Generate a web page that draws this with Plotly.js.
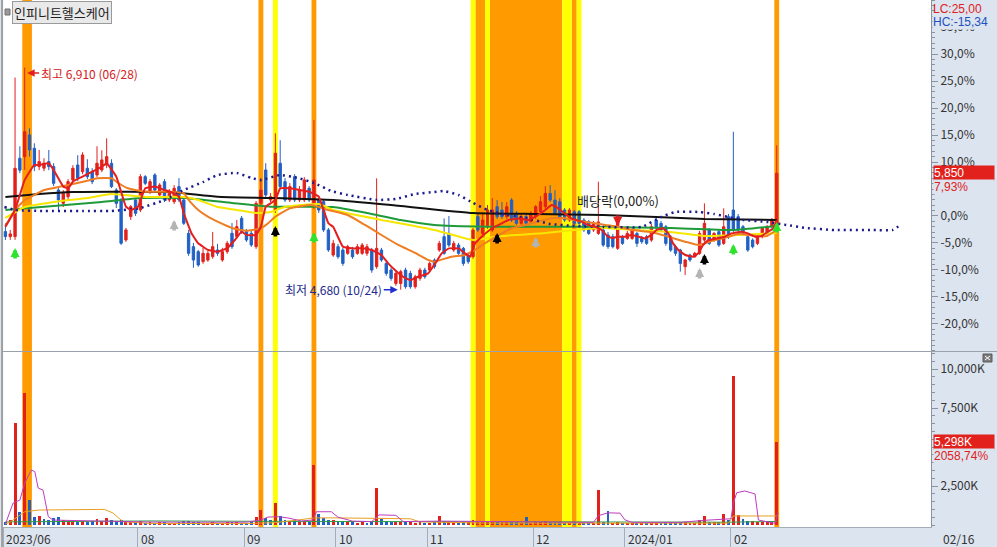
<!DOCTYPE html>
<html><head><meta charset="utf-8">
<script src="https://cdn.plot.ly/plotly-3.0.1.min.js"></script>
<style>html,body{margin:0;padding:0;background:#fff}#chart{width:997px;height:547px}</style>
</head><body><div id="chart"></div>
<script>
const stockName = '인피니트헬스케어';
const basePrice = 5420;
const dates = [
'2023-06-22','2023-06-23','2023-06-26','2023-06-27','2023-06-28','2023-06-29','2023-06-30',
'2023-07-03','2023-07-04','2023-07-05','2023-07-06','2023-07-07','2023-07-10','2023-07-11','2023-07-12','2023-07-13','2023-07-14','2023-07-17','2023-07-18','2023-07-19','2023-07-20','2023-07-21','2023-07-24','2023-07-25','2023-07-26','2023-07-27','2023-07-28','2023-07-31',
'2023-08-01','2023-08-02','2023-08-03','2023-08-04','2023-08-07','2023-08-08','2023-08-09','2023-08-10','2023-08-11','2023-08-14','2023-08-16','2023-08-17','2023-08-18','2023-08-21','2023-08-22','2023-08-23','2023-08-24','2023-08-25','2023-08-28','2023-08-29','2023-08-30','2023-08-31',
'2023-09-01','2023-09-04','2023-09-05','2023-09-06','2023-09-07','2023-09-08','2023-09-11','2023-09-12','2023-09-13','2023-09-14','2023-09-15','2023-09-18','2023-09-19','2023-09-20','2023-09-21','2023-09-22','2023-09-25','2023-09-26','2023-09-27',
'2023-10-04','2023-10-05','2023-10-06','2023-10-10','2023-10-11','2023-10-12','2023-10-13','2023-10-16','2023-10-17','2023-10-18','2023-10-19','2023-10-20','2023-10-23','2023-10-24','2023-10-25','2023-10-26','2023-10-27','2023-10-30','2023-10-31',
'2023-11-01','2023-11-02','2023-11-03','2023-11-06','2023-11-07','2023-11-08','2023-11-09','2023-11-10','2023-11-13','2023-11-14','2023-11-15','2023-11-16','2023-11-17','2023-11-20','2023-11-21','2023-11-22','2023-11-23','2023-11-24','2023-11-27','2023-11-28','2023-11-29','2023-11-30',
'2023-12-01','2023-12-04','2023-12-05','2023-12-06','2023-12-07','2023-12-08','2023-12-11','2023-12-12','2023-12-13','2023-12-14','2023-12-15','2023-12-18','2023-12-19','2023-12-20','2023-12-21','2023-12-22','2023-12-26','2023-12-27','2023-12-28',
'2024-01-02','2024-01-03','2024-01-04','2024-01-05','2024-01-08','2024-01-09','2024-01-10','2024-01-11','2024-01-12','2024-01-15','2024-01-16','2024-01-17','2024-01-18','2024-01-19','2024-01-22','2024-01-23','2024-01-24','2024-01-25','2024-01-26','2024-01-29','2024-01-30','2024-01-31',
'2024-02-01','2024-02-02','2024-02-05','2024-02-06','2024-02-07','2024-02-08','2024-02-13','2024-02-14','2024-02-15','2024-02-16'];

const opens = [5263,5213,5213,6000,6016,6234,6100,5916,5900,5966,5916,5681,5547,5614,5782,5932,5865,5899,5865,5832,5882,5932,5949,5681,5581,5179,5414,5581,5480,5815,5665,5832,5631,5765,5581,5564,5715,5581,5246,5112,5062,4962,4978,5012,5079,4978,5062,5246,5213,5397,5263,5246,5112,5547,5882,5581,5480,5949,5765,5581,5815,5581,5581,5698,5514,5581,5564,5280,
5028,5112,5078,5045,5078,5045,5045,5045,5078,4911,5078,4944,4877,4743,4743,4877,4844,4710,4794,4877,4877,4978,5078,5212,5245,5078,5128,5095,5028,5011,5413,5245,5312,5279,5513,5480,5413,5580,5446,5346,5413,5363,5413,5463,5513,5647,5580,5563,5480,5379,5463,5463,5379,5363,5279,5245,
5279,5229,5212,5095,5212,5195,5195,5245,5195,5212,5178,5379,5346,5312,5212,5112,5078,4911,5028,5011,5045,5178,5279,5178,5262,5145,5413,5480,5413,5312,5212,5178,5145,5212,5245,5312,5346];
const highs = [5347,5280,6810,6120,6910,6300,6150,6083,6000,6083,5950,5700,5680,5790,5930,6030,6060,5990,5900,6120,6080,6200,5990,5700,5600,5300,5530,5600,5840,5830,5790,5850,5750,5790,5690,5730,5800,5600,5280,5150,5080,5100,5070,5260,5140,5100,5170,5350,5380,5420,5290,5270,5570,5800,5950,5650,6250,6180,5800,5750,5840,5720,5810,5720,6384,5600,5590,5300,
5180,5140,5100,5130,5110,5140,5150,5140,5100,5798,5100,4960,4900,4870,4880,4900,4870,4830,4900,4900,4960,4995,5170,5396,5420,5170,5150,5110,5050,5300,5440,5440,5530,5600,5580,5560,5560,5600,5470,5440,5440,5470,5530,5620,5720,5730,5680,5600,5500,5500,5480,5480,5400,5380,5370,5764,
5310,5260,5240,5420,5230,5270,5300,5260,5220,5230,5340,5400,5370,5330,5230,5130,5090,4990,5040,5060,5270,5547,5300,5260,5280,5497,5440,6266,5440,5330,5230,5195,5245,5310,5330,5400,6130];
const lows = [5179,5180,5180,5850,5882,6016,5870,5880,5870,5880,5720,5480,5510,5580,5760,5770,5840,5790,5740,5810,5860,5900,5700,5500,5130,5160,5380,5420,5460,5730,5640,5660,5610,5560,5560,5540,5560,5330,5020,4900,4910,4940,4960,4990,5020,4960,5040,5090,5190,5240,5160,5110,5090,5520,5600,5560,5450,5690,5560,5560,5560,5560,5560,5560,5490,5450,5260,5060,
5010,4990,4920,5030,4990,5030,5030,5020,4850,4890,4960,4820,4770,4720,4680,4690,4690,4690,4770,4790,4860,4890,5060,5030,5110,5060,5030,4920,4940,4990,5260,5230,5290,5260,5390,5390,5390,5360,5330,5330,5330,5345,5390,5440,5490,5560,5430,5390,5360,5360,5330,5330,5260,5230,5260,5230,
5110,5090,5095,5080,5130,5180,5180,5110,5140,5130,5160,5290,5260,5120,5060,5020,4861,4827,4960,5000,5030,5160,5130,5160,5110,5130,5190,5260,5260,5230,5060,5095,5128,5195,5230,5296,5330];
const closes = [5213,5240,5899,5880,6267,6083,5916,5966,5950,5916,5748,5581,5648,5765,5899,5799,6033,5815,5765,5949,5983,6016,5715,5547,5146,5280,5514,5447,5815,5748,5765,5681,5731,5581,5665,5698,5581,5347,5045,4978,4928,5045,5045,5112,5045,5062,5146,5112,5313,5263,5179,5129,5547,5680,5631,5614,6050,5715,5581,5715,5581,5681,5782,5581,5782,5480,5280,5079,
5145,5011,4944,5112,5011,5112,5128,5112,4877,5095,4978,4844,4794,4844,4861,4710,4710,4810,4877,4810,4944,4911,5145,5045,5128,5145,5045,4944,4961,5279,5279,5379,5480,5480,5413,5413,5513,5379,5346,5413,5346,5446,5513,5563,5647,5580,5446,5413,5379,5480,5346,5346,5279,5245,5346,5360,
5128,5112,5112,5346,5145,5245,5279,5145,5162,5145,5312,5312,5279,5145,5078,5045,4944,4978,4978,5045,5245,5346,5145,5245,5128,5312,5212,5279,5279,5245,5078,5112,5229,5296,5312,5379,5850];
const volumesK = [180,350,6540,850,8460,1600,520,600,380,300,420,520,300,280,250,220,260,200,230,380,260,420,300,260,350,280,200,180,250,160,200,150,170,190,150,140,170,230,260,200,180,160,150,200,130,150,170,210,180,160,150,170,520,960,420,300,1400,600,350,280,300,220,250,200,3850,700,450,350,300,250,220,180,200,160,170,150,200,2370,400,250,200,180,220,200,180,160,170,150,160,180,600,280,260,180,160,200,170,300,280,240,260,250,220,180,190,230,170,160,500,150,170,200,260,220,200,180,150,160,170,150,140,130,160,2240,180,900,140,200,130,120,140,130,120,130,150,160,140,180,170,160,200,180,150,140,300,580,220,200,180,700,300,9550,620,380,280,250,200,220,240,280,5298];

// moving averages (index position, price)
const ma5Idx = [0,2,4,6,7,9,10,12,13,14,16,18,20,21,23,25,26,27.5,29,31,33,35,36,37,38.6,40,42,44,46,47.6,49,50,52,53,54,55,56,57,59,61,63,65,66,67,68,70,72,74,76,78,79.4,80.8,82.5,84,85.6,87.7,88.7,89.4,90.5,92,94,95.3,96.4,97.4,98.8,100,101.5,103,104.3,106.4,108.5,110.5,112,113.3,114.7,116,117.4,119.5,120.9,122.3,123.7,125,126,127,128.5,129.9,131.3,132.6,134,135,136.4,137.5,138.5,139.6,141,142.7,143.7,144.7,145.8,147.5,149.2,150.6,152.7,154,155.5,156.8,158.2,159.3,160];
const ma5Val = [5313,5480,5782,5932,5932,5949,5882,5715,5698,5765,5815,5865,5916,5949,5815,5514,5480,5514,5698,5715,5681,5648,5614,5447,5246,5146,5079,5062,5096,5179,5263,5230,5230,5313,5514,5547,5581,5698,5698,5681,5665,5614,5480,5347,5310,5112,5095,5095,5078,5028,4944,4877,4810,4777,4810,4844,4911,4961,5045,5095,5095,5045,5011,5145,5212,5262,5312,5346,5379,5396,5379,5430,5480,5530,5497,5446,5396,5363,5329,5312,5279,5212,5200,5212,5212,5229,5212,5195,5229,5279,5296,5245,5145,5078,5028,5011,5045,5128,5178,5195,5212,5245,5262,5245,5212,5218,5262,5296,5379];
const ma20Idx = [0,2,4,6,8,12,17,19,22,23,25.4,29,34,37,38.3,40,42,44,46,48,50,53,54.5,56,59,63.5,67,71,74.6,78,81.5,85,87.7,89,92.5,95.3,97.4,100,103,105,107.8,110.5,113.3,116,118.8,121.6,124.4,127.1,130,134,137.5,141,143.7,145.1,147.2,150,152,156,158,160];
const ma20Val = [5320,5480,5581,5631,5681,5721,5774,5799,5799,5764,5698,5664,5664,5648,5564,5480,5413,5363,5320,5286,5272,5297,5347,5413,5497,5530,5480,5430,5330,5229,5129,5049,4978,4961,5011,5028,5079,5162,5246,5297,5330,5363,5397,5397,5373,5353,5330,5313,5279,5259,5212,5162,5129,5146,5179,5212,5239,5219,5219,5279];
const ma60Idx = [0,4,10,17,22,29,37,40,44,48,52,55,58,65,68,78,89,97,103,112,118,124,131,138,145,152,160];
const ma60Val = [5400,5510,5561,5601,5641,5611,5611,5581,5510,5480,5450,5460,5510,5540,5480,5380,5279,5179,5219,5249,5279,5300,5279,5259,5219,5229,5249];
const ma120Idx = [0,10,20,28,37,47,55,68,75,82,89,100,115,124,138,151,160];
const ma120Val = [5480,5520,5561,5601,5601,5551,5513,5510,5450,5380,5330,5313,5313,5310,5300,5279,5320];
const ma240Idx = [0,7,14,22,34,44,55,68,80,97,110,124,135,145,160];
const ma240Val = [5611,5641,5661,5664,5661,5614,5601,5581,5530,5450,5440,5430,5410,5390,5380];
const spanIdx = [-0.2,2,8,16,22,28,33,37,41,44,48,51,53,57,60.7,64,67.6,71,77,81,85,89,91,94,97,100,103,108,113,118,124,132,136,139,144,147,150,153,158,162,166,172,180,184,186];
const spanVal = [5510,5480,5470,5470,5470,5500,5581,5681,5761,5832,5852,5802,5781,5832,5802,5751,5671,5631,5581,5591,5641,5661,5671,5631,5551,5480,5440,5400,5340,5320,5310,5310,5410,5460,5460,5440,5410,5380,5360,5330,5300,5279,5279,5279,5340];

// volume averages (index position, K shares)
const volMa5Idx = [0,1.6,3,4,5.4,6.1,6.8,7.8,8.9,9.9,12,20,30,40,50,53,54.5,56.6,58.6,61.4,63.8,64.5,67.6,69,72,76,77.5,81,82.5,90,100,110,120,122,123,125,127.5,128.5,130,140,145,149,150.5,151,151.7,153.4,155.5,156.2,159.6,160.3];
const volMa5Val = [60,1410,1600,2690,3525,3420,2370,2240,530,320,300,230,190,180,180,320,510,530,450,260,320,850,850,500,250,220,650,620,220,250,230,200,170,170,600,780,760,330,170,170,300,350,400,1410,2070,2180,1990,320,110,770];
const volMa20Idx = [0,1,4,7,20.6,22.3,24.4,30,50,56,64,67,84,86,100,120,150,151,160];
const volMa20Val = [60,190,850,960,1000,770,210,100,90,150,450,460,400,200,120,110,120,580,580];
const volMa60Idx = [0,30,60,90,120,150,160];
const volMa60Val = [200,260,230,220,200,180,230];

// signals
const orangeDays = ['2023-06-28','2023-06-29','2023-09-06','2023-09-21','2023-11-15','2023-11-16','2023-11-20','2023-11-21','2023-11-22','2023-11-23','2023-11-24','2023-11-27','2023-11-28','2023-11-29','2023-11-30','2023-12-01','2023-12-04','2023-12-05','2023-12-06','2023-12-07','2023-12-08','2023-12-13','2024-02-16'];
const yellowDays = ['2023-09-11','2023-11-14','2023-11-17','2023-12-11','2023-12-12','2023-12-14'];
const greenUpDays = ['2023-06-26','2023-09-21','2024-02-01','2024-02-16'];
const greenUpPrice = [5099,5259,5139,5360];
const grayUpDays = ['2023-08-10','2023-12-01','2024-01-23'];
const grayUpPrice = [5380,5209,4898];
const blackUpDays = ['2023-09-11','2023-11-21','2024-01-24'];
const blackUpPrice = [5320,5249,5038];
const redDownDays = ['2023-12-27'];
const redDownPrice = [5320];

const pctTicks = [-20,-15,-10,-5,0,10,15,20,25,30,35];
const volTicksK = [2500,7500,10000];

const RED='#e2211c', BLUE='#2160c4', FONT='"Noto Sans CJK KR", "Noto Sans", sans-serif', SMALLFONT='"Liberation Sans", Arial, sans-serif';
const idx = dates.map((d,i)=>i);
const at = d => dates.indexOf(d);
const volColors = closes.map((c,i)=> (i===0 ? c>=opens[i] : c>=closes[i-1]) ? RED : BLUE);

const traces = [
  {type:'candlestick', x:idx, open:opens, high:highs, low:lows, close:closes, xaxis:'x', yaxis:'y',
   increasing:{line:{color:RED,width:1},fillcolor:RED}, decreasing:{line:{color:BLUE,width:1},fillcolor:BLUE},
   whiskerwidth:0, hoverinfo:'skip'},
  {type:'scatter', mode:'lines', x:ma240Idx, y:ma240Val, line:{color:'#111111',width:2,shape:'spline',smoothing:0.4}, hoverinfo:'skip'},
  {type:'scatter', mode:'lines', x:ma120Idx, y:ma120Val, line:{color:'#1f9a3a',width:2,shape:'spline',smoothing:0.4}, hoverinfo:'skip'},
  {type:'scatter', mode:'lines', x:ma60Idx, y:ma60Val, line:{color:'#f7e600',width:2,shape:'spline',smoothing:0.4}, hoverinfo:'skip'},
  {type:'scatter', mode:'lines', x:ma20Idx, y:ma20Val, line:{color:'#ef7d22',width:2,shape:'spline',smoothing:0.4}, hoverinfo:'skip'},
  {type:'scatter', mode:'lines', x:spanIdx, y:spanVal, line:{color:'#1b1b8e',width:2.5,dash:'2px,4px',shape:'spline',smoothing:0.4}, hoverinfo:'skip'},
  {type:'scatter', mode:'lines', x:ma5Idx, y:ma5Val, line:{color:'#e41e1e',width:2,shape:'spline',smoothing:0.3}, hoverinfo:'skip'},
  {type:'bar', x:idx, y:volumesK, xaxis:'x', yaxis:'y2', width:0.6, marker:{color:volColors,line:{width:0}}, hoverinfo:'skip'},
  {type:'scatter', mode:'lines', x:volMa60Idx, y:volMa60Val, xaxis:'x', yaxis:'y2', line:{color:'#2e9e44',width:1}, hoverinfo:'skip'},
  {type:'scatter', mode:'lines', x:volMa20Idx, y:volMa20Val, xaxis:'x', yaxis:'y2', line:{color:'#e8a020',width:1}, hoverinfo:'skip'},
  {type:'scatter', mode:'lines', x:volMa5Idx, y:volMa5Val, xaxis:'x', yaxis:'y2', line:{color:'#c03cc0',width:1}, hoverinfo:'skip'}
];

// month label positions
const monthStarts = [];
dates.forEach((d,i)=>{ if(i===0 || d.slice(0,7)!==dates[i-1].slice(0,7)) monthStarts.push(i); });
const shownMonths = [];
monthStarts.forEach(i=>{ if(!shownMonths.length || i - shownMonths[shownMonths.length-1] >= 12) shownMonths.push(i); });
const monthLabel = i => (i===0 || dates[i].slice(5,7)==='01') ? dates[i].slice(0,4)+'/'+dates[i].slice(5,7) : dates[i].slice(5,7);

// highlight bands, merged into contiguous runs
const shapes = [];
const bandRuns = (days,color) => {
  const ids = days.map(at).sort((a,b)=>a-b);
  let s = ids[0], p = ids[0];
  const push = (a,b) => ['y domain','y2 domain'].forEach(yr=>shapes.push({type:'rect',xref:'x',yref:yr,x0:a-0.5,x1:b+0.5,y0:0,y1:1,fillcolor:color,line:{width:0},layer:'below'}));
  for (let k=1;k<ids.length;k++){ if(ids[k]===p+1){p=ids[k];} else {push(s,p); s=p=ids[k];} }
  push(s,p);
};
bandRuns(orangeDays,'#ff9a00');
bandRuns(yellowDays,'#ffff00');
shapes.push({type:'line',xref:'paper',yref:'paper',x0:0,x1:1.075,y0:0.3330,y1:0.3330,line:{color:'#9aa3ad',width:1}});
shapes.push({type:'line',xref:'paper',yref:'paper',x0:-0.001,x1:-0.001,y0:-0.04,y1:1,line:{color:'#a0a0a0',width:2}});
shapes.push({type:'rect',xref:'paper',yref:'paper',x0:2/928,x1:7/928,y0:1-15/527,y1:1-9/527,fillcolor:'#9a9a9a',line:{color:'#707070',width:1}});
// small close box at top-right of the volume pane
shapes.push({type:'rect',xref:'paper',yref:'paper',x0:(983-3)/928,x1:(992-3)/928,y0:1-(362)/527,y1:1-(354)/527,fillcolor:'#7a7a7a',line:{color:'#5a5a5a',width:1}});
shapes.push({type:'line',xref:'paper',yref:'paper',x0:(985-3)/928,x1:(990-3)/928,y0:1-360/527,y1:1-356/527,line:{color:'#fff',width:1}});
shapes.push({type:'line',xref:'paper',yref:'paper',x0:(985-3)/928,x1:(990-3)/928,y0:1-356/527,y1:1-360/527,line:{color:'#fff',width:1}});

const annotations = [];
// signal arrows (block arrows: thick shaft + head)
const sig = (days,prices,color,up) => days.forEach((d,k)=>annotations.push({xref:'x',yref:'y',x:at(d),y:prices[k],ax:0,ay:up?12:-12,text:'',showarrow:true,arrowhead:2,arrowsize:0.5,arrowwidth:3.6,arrowcolor:color}));
sig(greenUpDays,greenUpPrice,'#2ee32e',true);
sig(grayUpDays,grayUpPrice,'#b4b4b4',true);
sig(blackUpDays,blackUpPrice,'#000000',true);
sig(redDownDays,redDownPrice,'#e41e1e',false);

shownMonths.forEach(i=>annotations.push({xref:'x',yref:'paper',x:i-0.5,y:0,xanchor:'left',yanchor:'top',yshift:-1,xshift:1,showarrow:false,text:monthLabel(i),font:{family:FONT,size:12,color:'#333'}}));
annotations.push({xref:'paper',yref:'paper',x:1,y:0,xanchor:'left',yanchor:'top',xshift:10,yshift:-1,showarrow:false,text:dates[dates.length-1].slice(5).replace('-','/'),font:{family:FONT,size:12,color:'#333'}});
annotations.push({xref:'paper',yref:'paper',x:0,y:1,xanchor:'left',yanchor:'top',xshift:9,yshift:-1,showarrow:false,text:stockName,font:{family:FONT,size:13,color:'#222'},bgcolor:'#e9e9e9',bordercolor:'#9a9a9a',borderwidth:1,borderpad:1});
const hiIdx = highs.indexOf(Math.max(...highs)), loIdx = lows.indexOf(Math.min(...lows));
const fmtD = d => d.slice(5).replace('-','/');
annotations.push({xref:'x',yref:'y',x:hiIdx+0.5,y:highs[hiIdx]-55,ax:12,ay:0,xanchor:'left',showarrow:true,arrowhead:2,arrowsize:1,arrowwidth:1.5,arrowcolor:'#e41e1e',text:'최고 '+highs[hiIdx].toLocaleString('en-US')+' ('+fmtD(dates[hiIdx])+')',font:{family:FONT,size:12,color:'#d42020'}});
annotations.push({xref:'x',yref:'y',x:loIdx-0.6,y:lows[loIdx],ax:-14,ay:0,xanchor:'right',showarrow:true,arrowhead:2,arrowsize:1,arrowwidth:1.5,arrowcolor:'#1f2fd0',text:'최저 '+lows[loIdx].toLocaleString('en-US')+' ('+fmtD(dates[loIdx])+')',font:{family:FONT,size:12,color:'#1c2a8a'}});
annotations.push({xref:'x',yref:'y',x:at(redDownDays[0]),y:5571,xanchor:'center',showarrow:false,text:'배당락(0,00%)',font:{family:FONT,size:13,color:'#222'}});
const last = closes.length-1;
const chg = (closes[last]/basePrice-1)*100;
annotations.push({xref:'paper',yref:'paper',x:1,y:1,xanchor:'left',yanchor:'top',xshift:1,yshift:-14,showarrow:false,text:'HC:-15,34',font:{family:SMALLFONT,size:12,color:'#2050c0'},bgcolor:'#dce4ef',borderpad:0});
annotations.push({xref:'paper',yref:'paper',x:1,y:1,xanchor:'left',yanchor:'top',xshift:1,yshift:-1,showarrow:false,text:'LC:25,00',font:{family:SMALLFONT,size:12,color:'#e02020'},borderpad:0});
annotations.push({xref:'paper',yref:'y',x:1,y:closes[last],xanchor:'left',yanchor:'middle',xshift:2,showarrow:false,width:60,align:'left',borderpad:0,text:closes[last].toLocaleString('en-US'),font:{family:SMALLFONT,size:12,color:'#fff'},bgcolor:'#e2211c'});
annotations.push({xref:'paper',yref:'y',x:1,y:closes[last],xanchor:'left',yanchor:'middle',xshift:2,yshift:-14,showarrow:false,width:60,align:'left',borderpad:0,text:chg.toFixed(2).replace('.',',')+'%',font:{family:SMALLFONT,size:12,color:'#e02020'},bgcolor:'#dce4ef'});
annotations.push({xref:'paper',yref:'y2',x:1,y:volumesK[last],xanchor:'left',yanchor:'middle',xshift:2,showarrow:false,width:60,align:'left',borderpad:0,text:volumesK[last].toLocaleString('en-US')+'K',font:{family:SMALLFONT,size:12,color:'#fff'},bgcolor:'#e2211c'});
annotations.push({xref:'paper',yref:'y2',x:1,y:volumesK[last],xanchor:'left',yanchor:'middle',xshift:2,yshift:-14,showarrow:false,width:60,align:'left',borderpad:0,text:'2058,74%',font:{family:SMALLFONT,size:12,color:'#e02020'},bgcolor:'#dce4ef'});

const pctText = p => p.toFixed(1).replace('.',',')+'%';
const minorPct = []; for(let p=-26;p<=41;p++) minorPct.push(basePrice*(1+p/100));
const minorVol = []; for(let v=0;v<=11000;v+=500) minorVol.push(v);

const layout = {
  width:997, height:547, margin:{l:3,r:66,t:0,b:20},
  paper_bgcolor:'#dce4ef', plot_bgcolor:'#ffffff', showlegend:false, bargap:0,
  xaxis:{range:[-0.5,192], tickmode:'array', tickvals:shownMonths.map(i=>i-0.5), showticklabels:false, ticks:'outside', ticklen:20, tickcolor:'#a4adb8', tickwidth:1,
         showgrid:false, zeroline:false, showline:true, linecolor:'#a4adb8', anchor:'y2', rangeslider:{visible:false}, fixedrange:true},
  yaxis:{domain:[0.334,1], side:'right', range:[4064.6,7588.6], tickmode:'array', tickvals:pctTicks.map(p=>basePrice*(1+p/100)), ticktext:pctTicks.map(pctText),
         ticks:'outside', ticklen:6, tickcolor:'#8a94a0', showgrid:false, zeroline:false, showline:true, linecolor:'#8a94a0',
         tickfont:{family:FONT,size:12,color:'#333'}, minor:{tickmode:'array',tickvals:minorPct,ticks:'outside',ticklen:3,tickcolor:'#8a94a0',showgrid:false}, fixedrange:true},
  yaxis2:{domain:[0,0.332], side:'right', range:[-128,11089], tickmode:'array', tickvals:volTicksK, ticktext:volTicksK.map(v=>v.toLocaleString('en-US')+'K'),
         ticks:'outside', ticklen:6, tickcolor:'#8a94a0', showgrid:false, zeroline:false, showline:true, linecolor:'#8a94a0',
         tickfont:{family:FONT,size:12,color:'#333'}, minor:{tickmode:'array',tickvals:minorVol,ticks:'outside',ticklen:3,tickcolor:'#8a94a0',showgrid:false}, fixedrange:true},
  shapes:shapes, annotations:annotations
};
Plotly.newPlot('chart', traces, layout, {staticPlot:true, displayModeBar:false});
</script>
</body></html>
